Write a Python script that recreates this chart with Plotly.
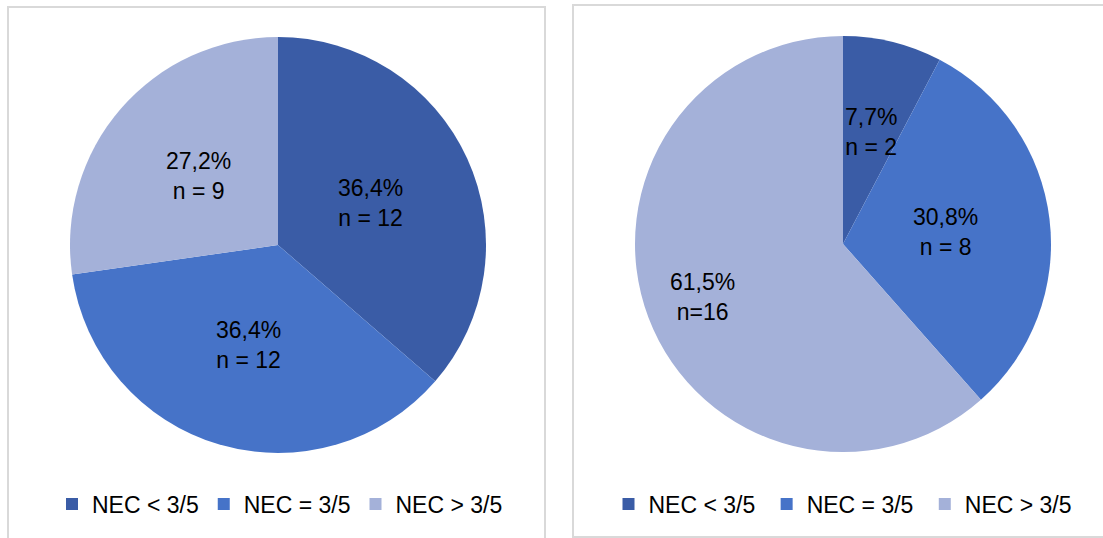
import math
import plotly.graph_objects as go

categories = ["NEC < 3/5", "NEC = 3/5", "NEC > 3/5"]
left_counts = [12, 12, 9]
left_labels = ["36,4%<br>n = 12", "36,4%<br>n = 12", "27,2%<br>n = 9"]
right_counts = [2, 8, 16]
right_labels = ["7,7%<br>n = 2", "30,8%<br>n = 8", "61,5%<br>n=16"]
colors = ["#3a5ca6", "#4673c8", "#a4b1d9"]

# label placement (fraction of radius) - styling only
left_label_r = [0.49, 0.50, 0.505]
right_label_r = [0.556, 0.494, 0.72]

W, H = 1103, 538
def px(x): return x / W
def py(y): return 1 - y / H

FONT = "Liberation Sans, Arial"

# pie geometry in pixels (center, radius); second pie gets distinct label keys
pies = [
    dict(counts=left_counts, labels=left_labels, lr=left_label_r, cx=278, cy=245, R=208,
         legend="legend", cats=categories),
    dict(counts=right_counts, labels=right_labels, lr=right_label_r, cx=843, cy=244, R=208,
         legend="legend2", cats=[c + " " for c in categories]),
]

fig = go.Figure()
annotations = []
for p in pies:
    cx, cy, R = p["cx"], p["cy"], p["R"]
    fig.add_trace(go.Pie(
        labels=p["cats"], values=p["counts"],
        textinfo="none",
        sort=False, direction="clockwise", rotation=0,
        marker=dict(colors=colors, line=dict(width=0)),
        domain=dict(x=[px(cx - R), px(cx + R)], y=[py(cy + R), py(cy - R)]),
        legend=p["legend"], hoverinfo="skip",
    ))
    total = sum(p["counts"])
    cum = 0
    for v, lab, fr in zip(p["counts"], p["labels"], p["lr"]):
        mid = (cum + v / 2) / total * 2 * math.pi
        cum += v
        x = cx + fr * R * math.sin(mid)
        y = cy - fr * R * math.cos(mid)
        annotations.append(dict(
            x=px(x), y=py(y), xref="paper", yref="paper",
            text=lab, showarrow=False, xanchor="center", yanchor="middle",
            font=dict(size=23, color="black", family=FONT),
        ))

legend_common = dict(orientation="h", xanchor="center", yanchor="middle",
                     font=dict(size=23, color="black", family=FONT),
                     bgcolor="rgba(0,0,0,0)", itemwidth=30, tracegroupgap=0)
fig.update_layout(
    width=W, height=H,
    margin=dict(l=0, r=0, t=0, b=0),
    paper_bgcolor="white", plot_bgcolor="white",
    legend=dict(x=px(280), y=py(504), **legend_common),
    legend2=dict(x=px(846), y=py(504), **legend_common),
    annotations=annotations,
    shapes=[
        dict(type="rect", xref="paper", yref="paper",
             x0=px(8), x1=px(545), y0=py(540), y1=py(7),
             line=dict(color="#d9d9d9", width=2), fillcolor="rgba(0,0,0,0)"),
        dict(type="rect", xref="paper", yref="paper",
             x0=px(573), x1=px(1110), y0=py(537), y1=py(5),
             line=dict(color="#d9d9d9", width=2), fillcolor="rgba(0,0,0,0)"),
    ],
)
fig.write_html("out.html", config={"displayModeBar": False},
               post_script="document.body.style.margin='0';")
